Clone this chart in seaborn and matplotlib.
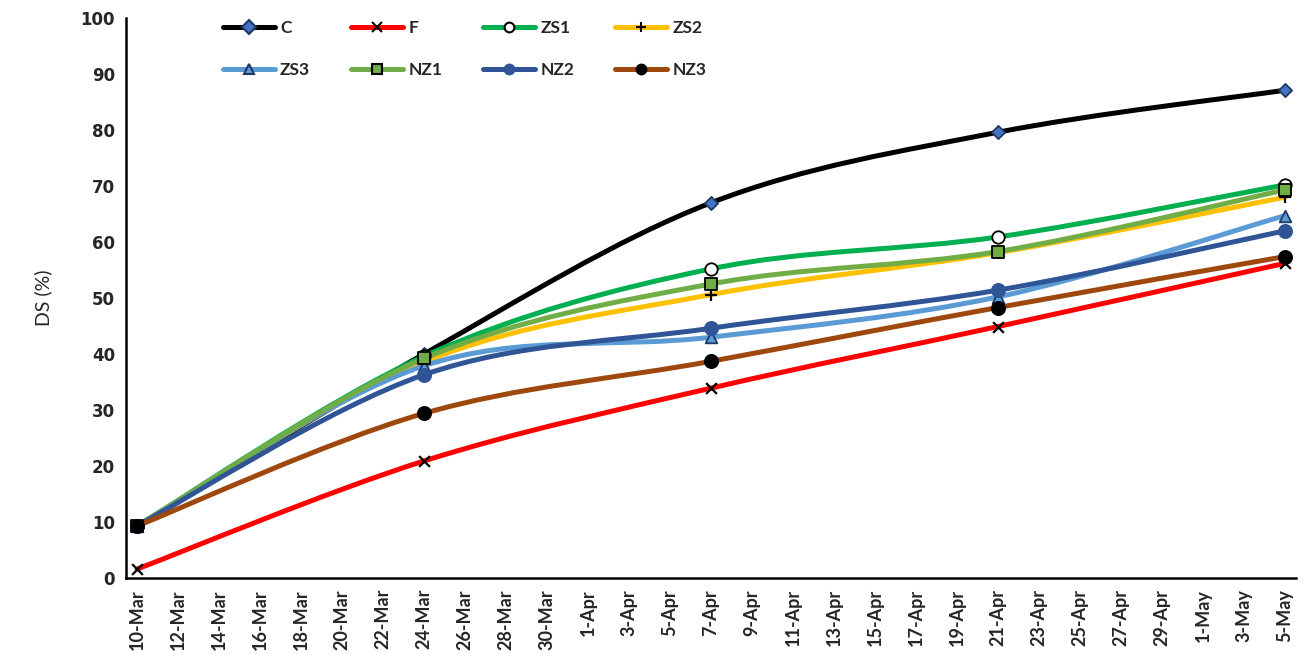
import numpy as np
import pandas as pd
import matplotlib
matplotlib.use("Agg")
import matplotlib.pyplot as plt
import matplotlib.dates as mdates
from matplotlib.path import Path
from matplotlib.patches import PathPatch
from matplotlib.lines import Line2D
import seaborn as sns

# sampling dates and disease severity (%)
dates = ["2021-03-10", "2021-03-24", "2021-04-07", "2021-04-21", "2021-05-05"]
C = [9.3, 40.0, 67.0, 79.6, 87.1]
F = [1.6, 20.9, 33.9, 44.9, 56.2]
ZS1 = [9.3, 39.6, 55.2, 60.9, 70.2]
ZS2 = [9.3, 38.6, 50.6, 58.1, 68.0]
ZS3 = [9.3, 37.9, 43.0, 50.2, 64.7]
NZ1 = [9.2, 39.2, 52.5, 58.3, 69.3]
NZ2 = [9.3, 36.3, 44.6, 51.4, 62.0]
NZ3 = [9.3, 29.4, 38.7, 48.3, 57.4]
names = ["C", "F", "ZS1", "ZS2", "ZS3", "NZ1", "NZ2", "NZ3"]
values = [C, F, ZS1, ZS2, ZS3, NZ1, NZ2, NZ3]
tick_dates = pd.date_range("2021-03-10", "2021-05-05", freq="2D")
tick_labels = [f"{d.day}-{d.strftime('%b')}" for d in tick_dates]
yticks = list(range(0, 101, 10))

# style per series: line colour, marker, face, edge, size
styles = {
    "C":   ("#000000", "D", "#4472C4", "#1F3864", 45),
    "F":   ("#FF0000", "x", "black", "black", 60),
    "ZS1": ("#00B050", "o", "white", "black", 80),
    "ZS2": ("#FFC000", "+", "black", "black", 80),
    "ZS3": ("#5B9BD5", "^", "#5B9BD5", "#1F3864", 70),
    "NZ1": ("#70AD47", "s", "#70AD47", "black", 80),
    "NZ2": ("#2F5597", "o", "#2F5597", "#2F5597", 90),
    "NZ3": ("#9E480E", "o", "black", "black", 90),
}

sns.set_style("white")
plt.rcParams["font.family"] = ["Lato", "DejaVu Sans"]

x = pd.to_datetime(dates)
xn = mdates.date2num(x)


def smooth_path(xs, ys):
    # excel-like smoothed line as a chain of bezier curves through the points
    pts = np.column_stack([xs, ys])
    n = len(pts)
    verts = [pts[0]]
    codes = [Path.MOVETO]
    for i in range(n - 1):
        p0 = pts[max(i - 1, 0)]
        p1 = pts[i]
        p2 = pts[i + 1]
        p3 = pts[min(i + 2, n - 1)]
        verts += [p1 + (p2 - p0) / 6, p2 - (p3 - p1) / 6, p2]
        codes += [Path.CURVE4] * 3
    return Path(verts, codes)


fig = plt.figure(figsize=(13.1, 6.54), dpi=100)
ax = fig.add_axes([126 / 1310, 1 - 578 / 654, (1296 - 126) / 1310, (578 - 18) / 654])

handles = {}
for i, (name, vals) in enumerate(zip(names, values)):
    lc, m, fc, ec, s = styles[name]
    patch = PathPatch(smooth_path(xn, vals), facecolor="none", edgecolor=lc,
                      lw=3.6, capstyle="round", joinstyle="round", zorder=2 + i * 0.1)
    ax.add_patch(patch)
    if m in ("x", "+"):
        sns.scatterplot(x=x, y=vals, ax=ax, marker=m, s=s, color=fc,
                        linewidth=1.6, zorder=3 + i * 0.1)
    else:
        sns.scatterplot(x=x, y=vals, ax=ax, marker=m, s=s, color=fc,
                        edgecolor=ec, linewidth=1.3, zorder=3 + i * 0.1)
    handles[name] = Line2D([], [], color=lc, lw=3.6, marker=m, markersize=7,
                           markerfacecolor=fc, markeredgecolor=ec,
                           markeredgewidth=1.5, solid_capstyle="round")

ax.set_xlim(mdates.date2num(pd.Timestamp("2021-03-10")) - 0.54,
            mdates.date2num(pd.Timestamp("2021-05-05")) + 0.54)
ax.set_ylim(0, 100)
ax.set_xticks(tick_dates)
ax.set_xticklabels(tick_labels, rotation=90, fontsize=13, fontweight="bold")
ax.set_yticks(yticks)
ax.set_yticklabels([str(v) for v in yticks], fontsize=12, fontweight="bold",
                   family="DejaVu Sans")
ax.tick_params(length=0, pad=8)
ax.set_xlabel("")
ax.set_ylabel("DS (%)", fontsize=14, labelpad=20)
for side in ("top", "right"):
    ax.spines[side].set_visible(False)
for side in ("left", "bottom"):
    ax.spines[side].set_color("black")
    ax.spines[side].set_linewidth(1.8)

order = ["C", "ZS3", "F", "NZ1", "ZS1", "NZ2", "ZS2", "NZ3"]
fig.legend([handles[k] for k in order], order, loc="upper left",
           bbox_to_anchor=(207 / 1310, 1 - 4 / 654), ncol=4, frameon=False,
           handlelength=3.0, handletextpad=0.3, columnspacing=2.35,
           labelspacing=1.5, prop={"weight": "bold", "size": 12.5})

fig.savefig("out.png", dpi=100)
